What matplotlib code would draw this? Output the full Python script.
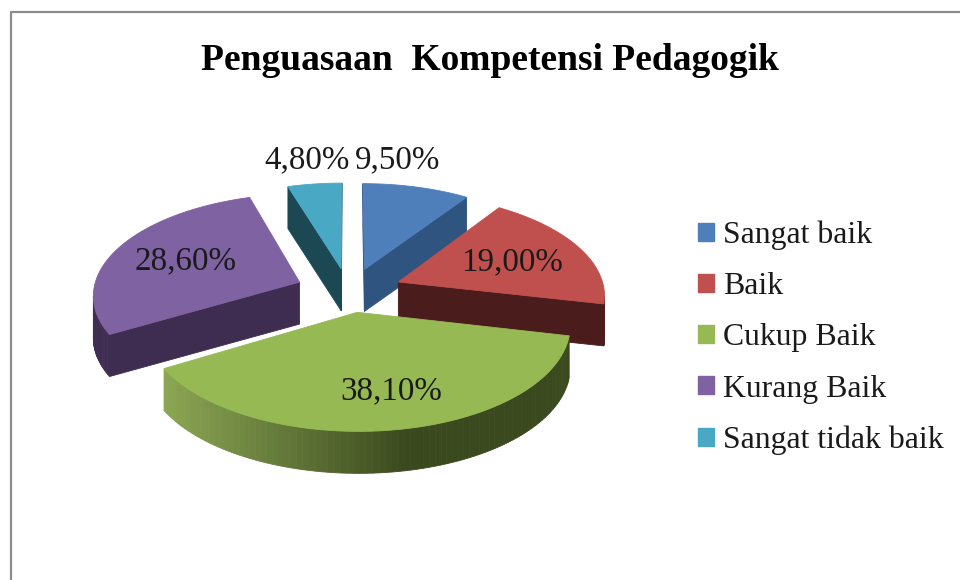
import numpy as np
import matplotlib
matplotlib.use('Agg')
import matplotlib.pyplot as plt
from matplotlib.patches import Patch, Polygon
from matplotlib.colors import to_rgb

plt.rcParams['font.family'] = ['Liberation Serif', 'DejaVu Serif']

title = 'Penguasaan  Kompetensi Pedagogik'
categories = ['Sangat baik', 'Baik', 'Cukup Baik', 'Kurang Baik', 'Sangat tidak baik']
values = [9.5, 19.0, 38.1, 28.6, 4.8]
value_labels = ['9,50%', '19,00%', '38,10%', '28,60%', '4,80%']
top_colors = ['#4f7fbb', '#bf504d', '#97b954', '#7f62a1', '#49a9c5']
side_light = ['#36597f', '#4f1f1e', '#8ba653', '#3f2e52', '#1d4a58']
side_dark = ['#2f5480', '#4a1c1c', '#3b4a1e', '#3a2a4c', '#1b4652']
draw_order = [4, 0, 3, 1, 2]
label_pos = [(398, 160), (512, 262), (391, 391), (185, 261), (307, 160)]

# perspective of the pie, in pixels
cx, cy = 349, 290
sx, sy = 206, 100
persp = 0.114
explode_x, explode_y = 0.26, 0.22
depth = 42


def project(u, v):
    s = 1 + persp * v
    return cx + sx * u / s, cy - sy * v / s


def wall_color(i, x):
    t = np.clip((x - 165) / 240, 0, 1)
    return tuple((1 - t) * a + t * b for a, b in zip(to_rgb(side_light[i]), to_rgb(side_dark[i])))


fig = plt.figure(figsize=(9.6, 5.8), dpi=100)
ax = fig.add_axes([0, 0, 1, 1])
ax.set_xlim(0, 960)
ax.set_ylim(580, 0)
ax.axis('off')

ax.plot([11, 11, 960], [580, 12, 12], color='#8c8c8c', lw=1.6)

edges = np.cumsum([0] + values) / sum(values) * 2 * np.pi

for i in draw_order:
    a0, a1 = edges[i], edges[i + 1]
    mid = (a0 + a1) / 2
    ou, ov = explode_x * np.sin(mid), explode_y * np.cos(mid)
    th = np.linspace(a0, a1, 90)
    # outline clockwise on screen: apex, rim, back to apex
    us = np.r_[ou, ou + np.sin(th), ou]
    vs = np.r_[ov, ov + np.cos(th), ov]
    xs, ys = project(us, vs)

    # an edge that runs leftward on a clockwise outline faces the viewer
    for j in range(len(xs) - 1):
        if xs[j + 1] >= xs[j]:
            continue
        quad = [(xs[j], ys[j]), (xs[j + 1], ys[j + 1]),
                (xs[j + 1], ys[j + 1] + depth), (xs[j], ys[j] + depth)]
        c = wall_color(i, (xs[j] + xs[j + 1]) / 2)
        ax.add_patch(Polygon(quad, closed=True, fc=c, ec=c, lw=0.6, zorder=2))
    ax.add_patch(Polygon(np.c_[xs, ys], closed=True, fc=top_colors[i], ec=top_colors[i],
                         lw=0.6, zorder=2))

for lab, (x, y) in zip(value_labels, label_pos):
    ax.text(x, y, lab, fontsize=23.8, color='#1a1a1a', ha='center', va='center', zorder=5)

ax.text(490, 60, title, fontsize=27, fontweight='bold', color='black', ha='center', va='center')

handles = [Patch(fc=c, ec=c) for c in top_colors]
ax.legend(handles, categories, loc='center left', bbox_to_anchor=(698 / 960, 1 - 338 / 580),
          frameon=False, fontsize=22.9, handlelength=0.5, handleheight=0.5,
          handletextpad=0.28, labelspacing=0.695, borderpad=0, borderaxespad=0,
          labelcolor='#1a1a1a')

fig.savefig('out.png', dpi=100)
